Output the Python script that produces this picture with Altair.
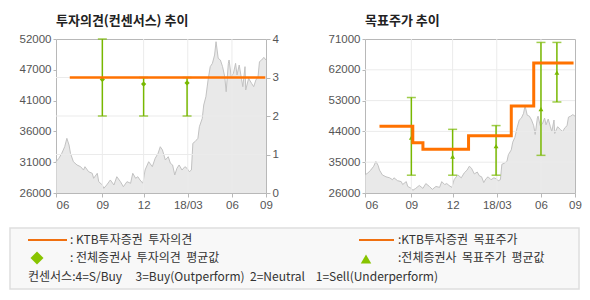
import altair as alt
import pandas as pd

# ---------------- data ----------------
# share price (trading-day index from June 2017, price in KRW)
price_day = [0, 4, 8, 12, 15, 18, 20, 24, 29, 34, 38, 40, 45, 50, 52, 57, 59, 64, 66, 70,
             75, 80, 84, 89, 93, 98, 103, 106, 110, 113, 116, 120, 123, 128, 133, 137, 141, 144, 147, 151,
             155, 158, 161, 164, 167, 170, 174, 178, 181, 184, 187, 189, 192, 196, 198, 202, 204, 207, 210, 213,
             216, 219, 221, 224, 227, 230, 233, 235, 238, 239, 242, 245, 248, 250, 253, 256, 258, 261, 262, 266,
             270, 273, 276, 279, 281, 284, 287, 290]
price_value = [31280, 31860, 32700, 33810, 35230, 34100, 32700, 31280, 30730, 30440,
               29880, 30440, 29600, 29325, 28480, 29325, 27910, 27350, 26790, 27350,
               28200, 27350, 28750, 27910, 27060, 27910, 27640, 29325, 28480, 28750,
               28200, 27640, 29880, 31280, 30440, 31860, 32700, 33810, 33260, 31570,
               32130, 31010, 30730, 29040, 30170, 30730, 29880, 30440, 30170, 29600,
               29880, 34390, 34670, 35230, 37190, 38600, 40850, 42260, 45070, 47330,
               47890, 49290, 51540, 48730, 48450, 47330, 45640, 43100, 47890, 48450,
               45640, 46200, 47890, 45920, 47610, 45360, 43950, 47330, 43390, 45360,
               44520, 43950, 45070, 45640, 48170, 48450, 48900, 48450]

x_tick_days = [0, 64, 121, 182, 243, 290]
x_tick_labels = ["06", "09", "12", "18/03", "06", "09"]

# left chart: investment opinion
left_price_ticks = [26000, 31200, 36400, 41600, 46800, 52000]
left_price_labels = ["26000", "31000", "36000", "41000", "47000", "52000"]
opinion_ticks = [0, 1, 2, 3, 4]

ktb_opinion_day = [19, 289]
ktb_opinion_value = [3, 3]

cons_op_day = [64, 121, 181]
cons_op_mean = [2.95, 2.83, 2.86]
cons_op_low = [2, 2, 2]
cons_op_high = [4, 3, 3]

# right chart: target price
right_price_ticks = [26000, 35000, 44000, 53000, 62000, 71000]
ktb_target_day = [20, 66, 80, 143, 202, 233, 288]
ktb_target_value = [45500, 40700, 38800, 42700, 51400, 64000, 64000]

cons_tp_day = [64, 121, 181, 243, 265]
cons_tp_mean = [42200, 36600, 39700, 50500, 61200]
cons_tp_low = [31200, 31200, 31200, 37000, 52600]
cons_tp_high = [53900, 44600, 45700, 70000, 70000]

# legend texts
legend_texts = {
    "ktb_op": ":\u00a0KTB투자증권\u00a0\u00a0투자의견",
    "cons_op": ":\u00a0전체증권사\u00a0\u00a0투자의견\u00a0\u00a0평균값",
    "ktb_tp": ":KTB투자증권\u00a0\u00a0목표주가",
    "cons_tp": ":전체증권사\u00a0\u00a0목표주가\u00a0\u00a0평균값",
    "note": "컨센서스:4=S/Buy\u00a0\u00a0\u00a0\u00a0\u00a03=Buy(Outperform)\u00a0\u00a02=Neutral\u00a0\u00a0\u00a0\u00a01=Sell(Underperform)",
}

# ---------------- styles ----------------
ORANGE = "#ff7200"
GREEN = "#78b800"
LEG_GREEN = "#88c400"
AREA = "#e0e0e0"
AREA_LINE = "#c2c2c2"
GRID = "#ebebeb"
BORDER = "#b8b8b8"
LABEL = "#555555"
KFONT = "Noto Sans CJK KR"
NFONT = "Liberation Sans"


def label_expr(vals, labels):
    expr = "''"
    for v, l in reversed(list(zip(vals, labels))):
        expr = f"datum.value == {v} ? '{l}' : ({expr})"
    return expr


price_df = pd.DataFrame({"day": price_day, "price": price_value})
vgrid_df = pd.DataFrame({"day": x_tick_days[1:-1]})

x_axis = alt.Axis(
    values=x_tick_days, labelExpr=label_expr(x_tick_days, x_tick_labels),
    title=None, grid=False, domain=False, tickSize=4, tickColor=BORDER,
    labelPadding=2, labelFontSize=11.5, labelColor=LABEL, labelFont=NFONT,
    labelFlush=False,
    labelAlign={"condition": {"test": "datum.value == 0", "value": "left"}, "value": "center"},
)
X = alt.X("day:Q", scale=alt.Scale(domain=[0, 290], nice=False, zero=False), axis=x_axis)


def title(text):
    return alt.TitleParams(text=text, anchor="start", frame="group", font=KFONT,
                           fontSize=13, fontWeight="bold", color="#222222", offset=5)


# ---------------- left chart ----------------
lp_axis = alt.Axis(
    orient="left", values=left_price_ticks, labelExpr=label_expr(left_price_ticks, left_price_labels),
    title=None, grid=False, domain=False, tickSize=3, tickColor=BORDER, labelPadding=2,
    labelFontSize=11.5, labelColor=LABEL, labelFont=NFONT,
)
LP = alt.Scale(domain=[26000, 52000], nice=False, zero=False)
left_area = alt.Chart(price_df).mark_area(
    color=AREA, line={"color": AREA_LINE, "strokeWidth": 1}
).encode(x=X, y=alt.Y("price:Q", scale=LP, axis=lp_axis), y2=alt.datum(26000))

op_axis = alt.Axis(
    orient="right", values=opinion_ticks, format="d", title=None, grid=False, domain=False,
    tickSize=4, tickColor=BORDER, labelPadding=2, labelFontSize=11.5, labelColor=LABEL,
    labelFont=NFONT,
)
OPS = alt.Scale(domain=[0, 4], nice=False, zero=False)
Yop = lambda f: alt.Y(f"{f}:Q", scale=OPS, axis=op_axis)

vgrid_l = alt.Chart(vgrid_df).mark_rule(color=GRID, strokeWidth=1).encode(x=X)
hgrid_l = alt.Chart(pd.DataFrame({"op": opinion_ticks[1:-1]})).mark_rule(
    color=GRID, strokeWidth=1).encode(y=Yop("op"))

cons_op_df = pd.DataFrame({"day": cons_op_day, "mean": cons_op_mean,
                           "low": cons_op_low, "high": cons_op_high})
op_rule = alt.Chart(cons_op_df).mark_rule(color=GREEN, strokeWidth=1.5).encode(
    x=X, y=Yop("low"), y2="high:Q")
op_cap_lo = alt.Chart(cons_op_df).mark_tick(color=GREEN, orient="horizontal", size=9, thickness=1.5).encode(
    x=X, y=Yop("low"))
op_cap_hi = alt.Chart(cons_op_df).mark_tick(color=GREEN, orient="horizontal", size=9, thickness=1.5).encode(
    x=X, y=Yop("high"))
op_mean = alt.Chart(cons_op_df).mark_point(shape="diamond", filled=True, size=28, color=GREEN, opacity=1).encode(
    x=X, y=Yop("mean"))
ktb_op = alt.Chart(pd.DataFrame({"day": ktb_opinion_day, "op": ktb_opinion_value})).mark_line(
    color=ORANGE, strokeWidth=2.6).encode(x=X, y=Yop("op"))

# ---------------- legend (drawn below the panels, positioned relative to the left panel) ----------------
# left panel origin in the page: (54, 39)
OX, OY = 54, 39
lbase = alt.Chart(pd.DataFrame({"a": [0]}))


def ltext(t, x, y):
    return lbase.mark_text(text=t, align="left", baseline="middle", font=KFONT,
                           fontSize=12, color="#333333").encode(x=alt.value(x - OX), y=alt.value(y - OY))


legend = alt.layer(
    lbase.mark_rect(fill="#f8f8f8", stroke="#dedede", strokeWidth=1.5).encode(
        x=alt.value(8 - OX), x2=alt.value(577 - OX), y=alt.value(228 - OY), y2=alt.value(289 - OY)),
    lbase.mark_rule(color="#f07010", strokeWidth=2).encode(
        x=alt.value(26 - OX), x2=alt.value(65 - OX), y=alt.value(240 - OY)),
    ltext(legend_texts["ktb_op"], 68, 240),
    lbase.mark_point(shape="diamond", filled=True, size=170, color=LEG_GREEN, opacity=1).encode(
        x=alt.value(35 - OX), y=alt.value(258 - OY)),
    ltext(legend_texts["cons_op"], 68, 258),
    lbase.mark_rule(color="#f07010", strokeWidth=2).encode(
        x=alt.value(357 - OX), x2=alt.value(392 - OX), y=alt.value(240 - OY)),
    ltext(legend_texts["ktb_tp"], 396, 240),
    lbase.mark_point(shape="triangle-up", filled=True, size=110, color=LEG_GREEN, opacity=1).encode(
        x=alt.value(364 - OX), y=alt.value(259 - OY)),
    ltext(legend_texts["cons_tp"], 396, 258),
    ltext(legend_texts["note"], 26, 277),
)

left = alt.layer(
    alt.layer(left_area),
    alt.layer(vgrid_l, hgrid_l, op_rule, op_cap_lo, op_cap_hi, op_mean, ktb_op),
    legend,
).resolve_scale(y="independent").properties(
    width=210, height=154, title=title("투자의견(컨센서스) 추이"))

# ---------------- right chart ----------------
rp_axis = alt.Axis(
    orient="left", values=right_price_ticks, format="d", title=None, grid=False, domain=False,
    tickSize=3, tickColor=BORDER, labelPadding=2, labelFontSize=11.5, labelColor=LABEL,
    labelFont=NFONT,
)
RPS = alt.Scale(domain=[26000, 71000], nice=False, zero=False)
Yrp = lambda f: alt.Y(f"{f}:Q", scale=RPS, axis=rp_axis)

right_area = alt.Chart(price_df).mark_area(
    color=AREA, line={"color": AREA_LINE, "strokeWidth": 1}
).encode(x=X, y=Yrp("price"), y2=alt.datum(26000))
vgrid_r = alt.Chart(vgrid_df).mark_rule(color=GRID, strokeWidth=1).encode(x=X)
hgrid_r = alt.Chart(pd.DataFrame({"price": right_price_ticks[1:-1]})).mark_rule(
    color=GRID, strokeWidth=1).encode(y=Yrp("price"))

cons_tp_df = pd.DataFrame({"day": cons_tp_day, "mean": cons_tp_mean,
                           "low": cons_tp_low, "high": cons_tp_high})
tp_rule = alt.Chart(cons_tp_df).mark_rule(color=GREEN, strokeWidth=1.5).encode(
    x=X, y=Yrp("low"), y2="high:Q")
tp_cap_lo = alt.Chart(cons_tp_df).mark_tick(color=GREEN, orient="horizontal", size=9, thickness=1.5).encode(
    x=X, y=Yrp("low"))
tp_cap_hi = alt.Chart(cons_tp_df).mark_tick(color=GREEN, orient="horizontal", size=9, thickness=1.5).encode(
    x=X, y=Yrp("high"))
tp_mean = alt.Chart(cons_tp_df).mark_point(shape="triangle-up", filled=True, size=24, color=GREEN, opacity=1).encode(
    x=X, y=Yrp("mean"))
ktb_tp = alt.Chart(pd.DataFrame({"day": ktb_target_day, "price": ktb_target_value})).mark_line(
    color=ORANGE, strokeWidth=3, interpolate="step-after").encode(x=X, y=Yrp("price"))

right = alt.layer(
    right_area, vgrid_r, hgrid_r, tp_rule, tp_cap_lo, tp_cap_hi, tp_mean, ktb_tp
).properties(width=210, height=154, title=title("목표주가 추이"))

chart = alt.hconcat(left, right, spacing=99, bounds="flush").properties(
    padding={"left": 8, "top": 14, "right": 0, "bottom": 0},
    background="white",
).configure_view(stroke=BORDER, strokeWidth=1)

chart.save("out.html", embed_options={"renderer": "svg", "actions": False})
